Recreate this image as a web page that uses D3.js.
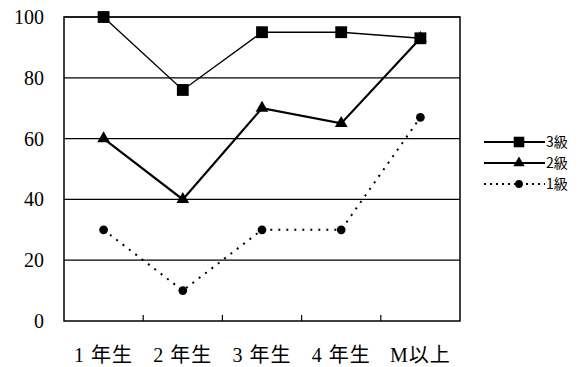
<!DOCTYPE html>
<html lang="ja">
<head>
<meta charset="UTF-8">
<script src="https://d3js.org/d3.v7.min.js"></script>
<style>
  body { margin: 0; background: #fff; }
  .ytick { font-family: "Liberation Serif", "DejaVu Serif", serif; font-size: 20px; }
  .xlab { font-family: "Liberation Serif", "Noto Sans CJK JP", serif; font-size: 20px; letter-spacing: 1px; }
  .leg { font-family: "Noto Sans CJK JP", sans-serif; font-size: 14px; }
</style>
</head>
<body>
<svg width="580" height="367"></svg>
<script>
// data
const categories = ["1 年生", "2 年生", "3 年生", "4 年生", "M以上"];
const kyu3 = [100, 76, 95, 95, 93];
const kyu2 = [60, 40, 70, 65, 93];
const kyu1 = [30, 10, 30, 30, 67];
const yTicks = [0, 20, 40, 60, 80, 100];

const svg = d3.select("svg");
const plotL = 64, plotR = 460, plotT = 17, plotB = 321;

const x = d3.scaleBand().domain(categories).range([plotL, plotR]);
const y = d3.scaleLinear().domain([0, 100]).range([plotB, plotT]);

// grid lines
svg.append("g").selectAll("line").data(yTicks.filter(d => d > 0))
  .enter().append("line")
  .attr("x1", plotL).attr("x2", plotR)
  .attr("y1", d => y(d)).attr("y2", d => y(d))
  .attr("stroke", "#000").attr("stroke-width", 1.2);

// plot frame
svg.append("rect")
  .attr("x", plotL).attr("y", plotT)
  .attr("width", plotR - plotL).attr("height", plotB - plotT)
  .attr("fill", "none").attr("stroke", "#000").attr("stroke-width", 1.5);

// y labels
svg.append("g").selectAll("text").data(yTicks)
  .enter().append("text")
  .attr("class", "ytick")
  .attr("x", 44).attr("y", d => y(d) + 7)
  .attr("text-anchor", "end")
  .text(d => d);

// x ticks between categories
svg.append("g").selectAll("line").data(categories.slice(1))
  .enter().append("line")
  .attr("x1", d => x(d)).attr("x2", d => x(d))
  .attr("y1", plotB).attr("y2", plotB - 6)
  .attr("stroke", "#000").attr("stroke-width", 1.2);

// x labels
svg.append("g").selectAll("text").data(categories)
  .enter().append("text")
  .attr("class", "xlab")
  .attr("x", d => x(d) + x.bandwidth() / 2)
  .attr("y", 362)
  .attr("text-anchor", "middle")
  .text(d => d);

const cx = (d, i) => x(categories[i]) + x.bandwidth() / 2;
const line = d3.line().x(cx).y(d => y(d));

const series = [
  { name: "3級", values: kyu3, width: 1.4, dash: null, symbol: d3.symbolSquare, size: 140 },
  { name: "2級", values: kyu2, width: 2.2, dash: null, symbol: d3.symbolTriangle, size: 70 },
  { name: "1級", values: kyu1, width: 2, dash: "2,6", symbol: d3.symbolCircle, size: 60 }
];

series.forEach(s => {
  svg.append("path")
    .datum(s.values)
    .attr("d", line)
    .attr("fill", "none")
    .attr("stroke", "#000")
    .attr("stroke-width", s.width)
    .attr("stroke-dasharray", s.dash);
  svg.append("g").selectAll("path").data(s.values)
    .enter().append("path")
    .attr("d", d3.symbol().type(s.symbol).size(s.size))
    .attr("transform", (d, i) => `translate(${cx(d, i)},${y(d)})`)
    .attr("fill", "#000");
});

// legend
const leg = svg.append("g");
series.forEach((s, i) => {
  const ly = 142 + i * 21;
  leg.append("line")
    .attr("x1", 484).attr("x2", 545)
    .attr("y1", ly).attr("y2", ly)
    .attr("stroke", "#000")
    .attr("stroke-width", 1.8)
    .attr("stroke-dasharray", s.dash ? "2,4" : null);
  leg.append("path")
    .attr("d", d3.symbol().type(s.symbol).size(s.size * 0.8))
    .attr("transform", `translate(519,${ly})`)
    .attr("fill", "#000");
  leg.append("text")
    .attr("class", "leg")
    .attr("x", 546).attr("y", ly + 5)
    .text(s.name);
});
</script>
</body>
</html>
